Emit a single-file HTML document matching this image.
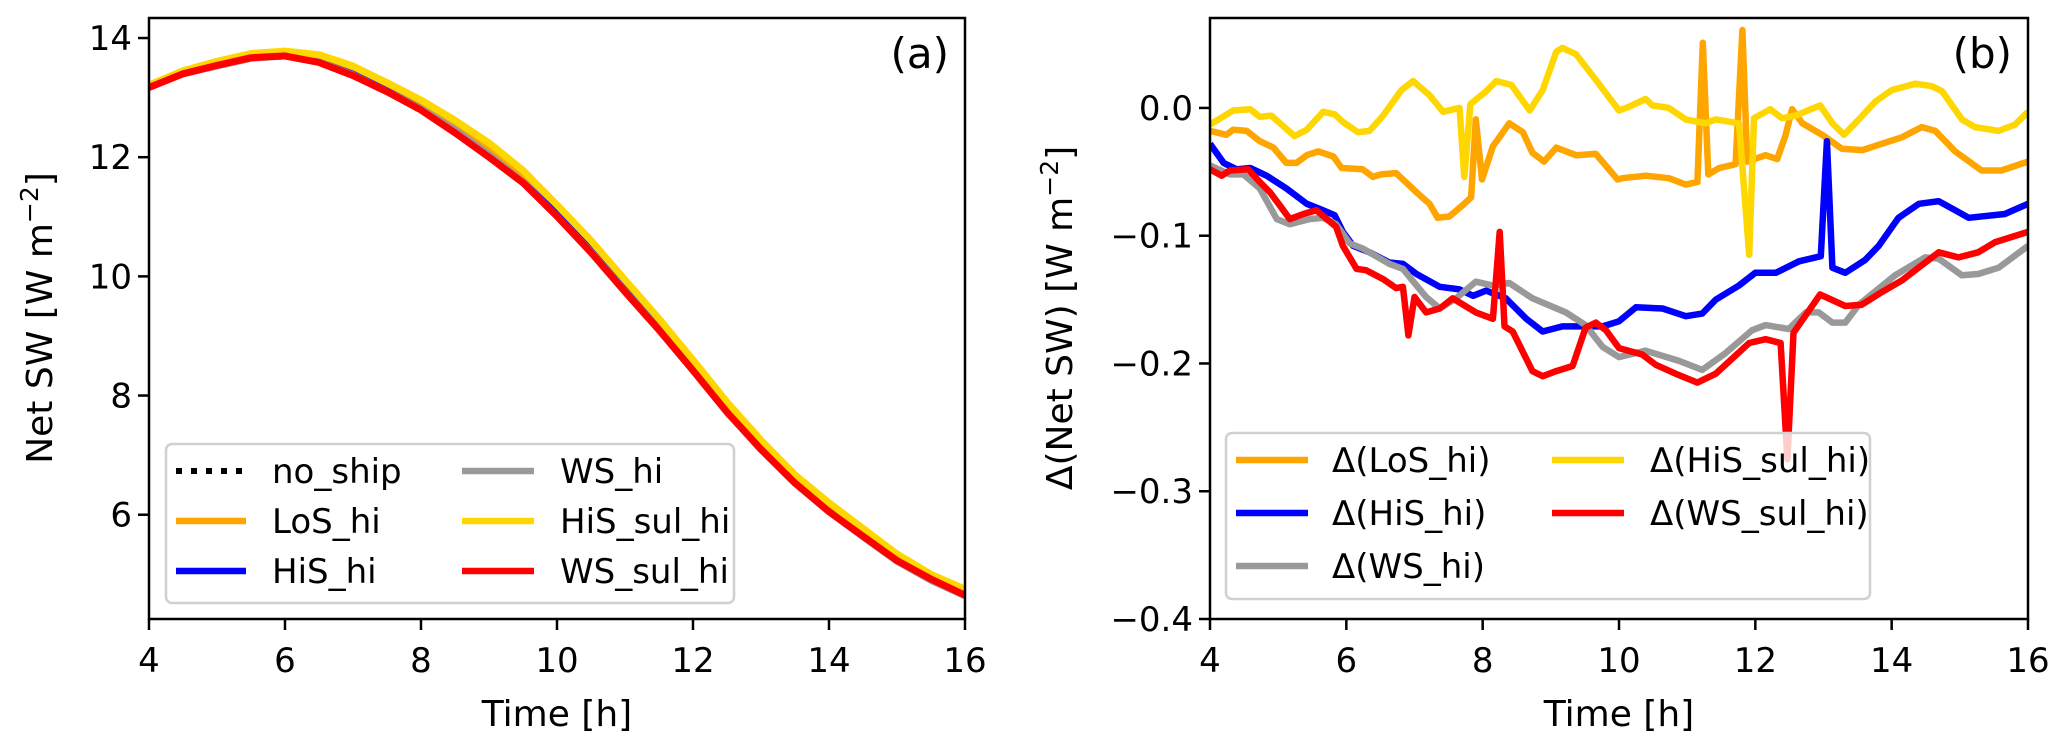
<!DOCTYPE html>
<html><head><meta charset="utf-8"><style>
html,body{margin:0;padding:0;background:#fff;}
svg{display:block;font-family:"DejaVu Sans","Liberation Sans",sans-serif;}
</style></head><body>
<svg id="fig" width="2067" height="746" viewBox="0 0 2067 746" xmlns="http://www.w3.org/2000/svg">
<defs>
<clipPath id="clipA"><rect x="149" y="18" width="816" height="601"/></clipPath>
<clipPath id="clipB"><rect x="1210" y="18" width="818" height="601"/></clipPath>
</defs>
<g id="panelA"></g>
<g id="panelB"></g>
</svg>
<script>
// ---------- Panel (a) data ----------
const timeA = [4,4.5,5,5.5,6,6.5,7,7.5,8,8.5,9,9.5,10,10.5,11,11.5,12,12.5,13,13.5,14,14.5,15,15.5,16];
const noShipA = [13.22,13.45,13.62,13.75,13.80,13.72,13.52,13.25,12.95,12.60,12.20,11.75,11.20,10.60,9.95,9.30,8.60,7.90,7.25,6.68,6.18,5.75,5.35,5.02,4.75];
const losA = [13.20,13.42,13.58,13.71,13.75,13.67,13.45,13.17,12.91,12.58,12.16,11.71,11.15,10.55,9.89,9.25,8.56,7.88,7.23,6.65,6.16,5.73,5.32,4.97,4.71];
const hisA = [13.19,13.41,13.56,13.67,13.70,13.60,13.39,13.11,12.81,12.45,12.03,11.58,11.04,10.44,9.79,9.16,8.47,7.78,7.13,6.56,6.08,5.68,5.27,4.94,4.68];
const wsA = [13.18,13.40,13.53,13.66,13.70,13.60,13.38,13.10,12.81,12.46,12.04,11.58,11.01,10.41,9.75,9.11,8.43,7.73,7.09,6.53,6.05,5.63,5.22,4.90,4.64];
const hisSulA = [13.21,13.45,13.61,13.74,13.78,13.72,13.53,13.25,12.96,12.62,12.24,11.78,11.20,10.60,9.94,9.29,8.60,7.89,7.25,6.67,6.20,5.77,5.34,5.00,4.75];
const wsSulA = [13.17,13.40,13.54,13.67,13.70,13.59,13.37,13.10,12.79,12.41,12.00,11.57,11.01,10.40,9.74,9.10,8.42,7.72,7.10,6.53,6.05,5.64,5.23,4.92,4.65];
const xTicks = [4,6,8,10,12,14,16];
const yTicksA = [6,8,10,12,14];
const yTicksB = [0.0,-0.1,-0.2,-0.3,-0.4];
const yTickLabelsB = ["0.0","\u22120.1","\u22120.2","\u22120.3","\u22120.4"];

// ---------- Panel (b) data ----------
const losT = [4,4.24,4.34,4.54,4.73,4.93,5.12,5.27,5.42,5.59,5.81,5.93,6.24,6.39,6.51,6.73,7.03,7.22,7.34,7.51,7.71,7.83,7.9,7.99,8.15,8.39,8.59,8.73,8.9,9.08,9.37,9.66,9.98,10.05,10.39,10.73,10.98,11.15,11.23,11.31,11.47,11.71,11.81,11.88,12.15,12.32,12.44,12.54,12.69,12.98,13.27,13.57,13.86,14.15,14.44,14.64,14.93,15.32,15.61,16];
const losV = [-0.018,-0.021,-0.017,-0.018,-0.026,-0.031,-0.043,-0.043,-0.037,-0.034,-0.038,-0.047,-0.048,-0.054,-0.052,-0.051,-0.066,-0.075,-0.086,-0.085,-0.076,-0.070,-0.009,-0.056,-0.030,-0.012,-0.019,-0.035,-0.042,-0.031,-0.037,-0.036,-0.056,-0.055,-0.053,-0.055,-0.060,-0.058,0.051,-0.052,-0.047,-0.044,0.061,-0.042,-0.037,-0.040,-0.022,-0.001,-0.012,-0.021,-0.032,-0.033,-0.028,-0.023,-0.015,-0.018,-0.034,-0.049,-0.049,-0.042];
const hisT = [4,4.2,4.39,4.59,4.83,5.12,5.42,5.61,5.83,5.95,6.1,6.34,6.63,6.83,7.03,7.37,7.66,7.86,8.05,8.34,8.64,8.88,9.17,9.51,9.76,10.0,10.25,10.64,10.98,11.22,11.42,11.76,12.0,12.3,12.64,12.96,13.05,13.13,13.32,13.61,13.81,14.1,14.4,14.69,14.93,15.13,15.66,16];
const hisV = [-0.028,-0.043,-0.048,-0.047,-0.053,-0.063,-0.075,-0.079,-0.084,-0.097,-0.108,-0.113,-0.121,-0.122,-0.130,-0.140,-0.142,-0.147,-0.143,-0.149,-0.165,-0.175,-0.171,-0.171,-0.171,-0.167,-0.156,-0.157,-0.163,-0.161,-0.150,-0.139,-0.129,-0.129,-0.120,-0.116,-0.026,-0.125,-0.129,-0.119,-0.108,-0.086,-0.075,-0.073,-0.080,-0.086,-0.083,-0.075];
const wsT = [4,4.29,4.49,4.73,4.98,5.17,5.46,5.66,5.85,6.05,6.24,6.63,6.83,7.17,7.37,7.61,7.9,8.15,8.39,8.73,9.22,9.51,9.76,10.0,10.39,10.88,11.22,11.56,11.95,12.15,12.49,12.74,12.93,13.13,13.32,13.52,14.05,14.49,14.69,15.03,15.27,15.57,16];
const wsV = [-0.045,-0.052,-0.052,-0.063,-0.087,-0.091,-0.087,-0.086,-0.091,-0.106,-0.110,-0.122,-0.126,-0.148,-0.157,-0.149,-0.136,-0.139,-0.137,-0.149,-0.160,-0.170,-0.187,-0.195,-0.190,-0.198,-0.205,-0.192,-0.174,-0.170,-0.173,-0.160,-0.160,-0.168,-0.168,-0.154,-0.131,-0.117,-0.118,-0.131,-0.130,-0.125,-0.108];
const hisSulT = [4,4.34,4.59,4.73,4.9,5.24,5.42,5.66,5.83,5.95,6.17,6.34,6.54,6.81,6.98,7.22,7.42,7.66,7.73,7.82,8.05,8.2,8.42,8.69,8.88,9.08,9.17,9.37,9.66,10.0,10.15,10.39,10.49,10.73,10.98,11.27,11.42,11.76,11.91,11.98,12.22,12.39,12.59,12.95,13.13,13.3,13.52,13.76,14.0,14.35,14.59,14.74,15.03,15.22,15.57,15.81,16];
const hisSulV = [-0.013,-0.002,-0.001,-0.007,-0.006,-0.022,-0.017,-0.003,-0.005,-0.011,-0.019,-0.018,-0.006,0.014,0.021,0.010,-0.003,0,-0.054,0.003,0.013,0.021,0.018,-0.002,0.014,0.044,0.047,0.042,0.022,-0.002,0.001,0.007,0.002,0,-0.009,-0.012,-0.009,-0.012,-0.115,-0.008,-0.001,-0.008,-0.006,0.002,-0.012,-0.021,-0.009,0.005,0.014,0.019,0.017,0.013,-0.009,-0.015,-0.018,-0.013,-0.003];
const wsSulT = [4,4.17,4.29,4.56,4.73,4.88,5.02,5.17,5.37,5.56,5.85,5.95,6.15,6.29,6.54,6.73,6.83,6.91,7.0,7.17,7.37,7.56,7.9,8.15,8.25,8.32,8.44,8.73,8.88,9.08,9.32,9.51,9.66,9.81,10.0,10.34,10.54,10.83,11.15,11.42,11.91,12.15,12.37,12.47,12.56,12.95,13.32,13.56,13.86,14.15,14.69,14.98,15.27,15.52,16];
const wsSulV = [-0.048,-0.053,-0.049,-0.048,-0.058,-0.066,-0.076,-0.087,-0.083,-0.080,-0.093,-0.108,-0.126,-0.127,-0.134,-0.141,-0.140,-0.178,-0.148,-0.160,-0.157,-0.149,-0.160,-0.165,-0.097,-0.171,-0.175,-0.206,-0.210,-0.206,-0.202,-0.172,-0.168,-0.174,-0.188,-0.193,-0.201,-0.208,-0.215,-0.208,-0.184,-0.181,-0.184,-0.275,-0.176,-0.146,-0.155,-0.154,-0.144,-0.135,-0.113,-0.117,-0.113,-0.105,-0.097];

const NS = "http://www.w3.org/2000/svg";
const A = {x0:149, x1:965, y0:18, y1:619, tmin:4, tmax:16, vmin:4.25, vmax:14.336};
const B = {x0:1210, x1:2028, y0:18, y1:619, tmin:4, tmax:16, vmin:-0.4, vmax:0.0704};
function xA(t){return A.x0+(t-A.tmin)/(A.tmax-A.tmin)*(A.x1-A.x0);}
function yA(v){return A.y1-(v-A.vmin)/(A.vmax-A.vmin)*(A.y1-A.y0);}
function xB(t){return B.x0+(t-B.tmin)/(B.tmax-B.tmin)*(B.x1-B.x0);}
function yB(v){return B.y1-(v-B.vmin)/(B.vmax-B.vmin)*(B.y1-B.y0);}

function mk(tag, attrs, parent){
  const e=document.createElementNS(NS,tag);
  for(const k in attrs) e.setAttribute(k,attrs[k]);
  parent.appendChild(e); return e;
}
function pathOf(ts,vs,fx,fy){
  let d="";
  for(let i=0;i<ts.length;i++){ d+=(i?"L":"M")+fx(ts[i]).toFixed(1)+","+fy(vs[i]).toFixed(1); }
  return d;
}

const gA=document.getElementById("panelA");
const gB=document.getElementById("panelB");

const linesA=mk("g",{"clip-path":"url(#clipA)"},gA);


let p;
p=mk("path",{d:pathOf(timeA,noShipA,xA,yA),fill:"none",stroke:"#000","stroke-width":4,"stroke-dasharray":"4,7"},linesA);


p=mk("path",{d:pathOf(timeA,losA,xA,yA),fill:"none",stroke:"#FFA500","stroke-width":7,"stroke-linejoin":"round"},linesA);


p=mk("path",{d:pathOf(timeA,hisA,xA,yA),fill:"none",stroke:"#0000FF","stroke-width":7,"stroke-linejoin":"round"},linesA);


p=mk("path",{d:pathOf(timeA,wsA,xA,yA),fill:"none",stroke:"#999999","stroke-width":7,"stroke-linejoin":"round"},linesA);


p=mk("path",{d:pathOf(timeA,hisSulA,xA,yA),fill:"none",stroke:"#FFD700","stroke-width":7,"stroke-linejoin":"round"},linesA);


p=mk("path",{d:pathOf(timeA,wsSulA,xA,yA),fill:"none",stroke:"#FF0000","stroke-width":7,"stroke-linejoin":"round"},linesA);



const linesB=mk("g",{"clip-path":"url(#clipB)"},gB);


p=mk("path",{d:pathOf(losT,losV,xB,yB),fill:"none",stroke:"#FFA500","stroke-width":6.5,"stroke-linejoin":"round"},linesB);


p=mk("path",{d:pathOf(hisT,hisV,xB,yB),fill:"none",stroke:"#0000FF","stroke-width":6.5,"stroke-linejoin":"round"},linesB);


p=mk("path",{d:pathOf(wsT,wsV,xB,yB),fill:"none",stroke:"#999999","stroke-width":6.5,"stroke-linejoin":"round"},linesB);


p=mk("path",{d:pathOf(hisSulT,hisSulV,xB,yB),fill:"none",stroke:"#FFD700","stroke-width":6.5,"stroke-linejoin":"round"},linesB);


p=mk("path",{d:pathOf(wsSulT,wsSulV,xB,yB),fill:"none",stroke:"#FF0000","stroke-width":6.5,"stroke-linejoin":"round"},linesB);



function axes(g,G,fx,fy,yt,ylab,name){
  const ax=mk("g",{},g);
  
  
  mk("rect",{x:G.x0,y:G.y0,width:G.x1-G.x0,height:G.y1-G.y0,fill:"none",stroke:"#000","stroke-width":2.5},ax);
  xTicks.forEach(t=>{
    const x=fx(t);
    mk("line",{x1:x,y1:G.y1,x2:x,y2:G.y1+11,stroke:"#000","stroke-width":2.5},ax);
    const tx=mk("text",{x:x,y:G.y1+53,"font-size":34,"text-anchor":"middle",fill:"#000"},ax);
    tx.textContent=String(t);
    
    
  });
  yt.forEach((v,i)=>{
    const y=fy(v);
    mk("line",{x1:G.x0-11,y1:y,x2:G.x0,y2:y,stroke:"#000","stroke-width":2.5},ax);
    const tx=mk("text",{x:G.x0-17,y:y+12,"font-size":34,"text-anchor":"end",fill:"#000"},ax);
    tx.textContent=ylab[i];
    
    
  });
}
axes(gA,A,xA,yA,yTicksA,yTicksA.map(String),"panel-a");
axes(gB,B,xB,yB,yTicksB,yTickLabelsB,"panel-b");

function legend(g,box,cols,name){
  const lg=mk("g",{},g);
  
  
  mk("rect",{x:box.x,y:box.y,width:box.w,height:box.h,rx:6,fill:"#fff","fill-opacity":0.8,stroke:"#d0d0d0","stroke-width":2.5},lg);
  cols.forEach(c=>{
    const e=mk("g",{},lg);
    
    
    const attrs={x1:c.lx,x2:c.lx+c.lw,y1:c.y,y2:c.y,stroke:c.color,"stroke-width":c.dash?6:6.5};
    if(c.dash) attrs["stroke-dasharray"]="6,9";
    mk("line",attrs,e);
    const t=mk("text",{x:c.tx,y:c.y+12,"font-size":34,fill:"#000"},e);
    t.textContent=c.label;
  });
}
legend(gA,{x:166,y:444,w:568,h:159},[
  {lx:176,lw:70,tx:272,y:471,color:"#000",dash:true,label:"no_ship"},
  {lx:176,lw:70,tx:272,y:521,color:"#FFA500",label:"LoS_hi"},
  {lx:176,lw:70,tx:272,y:571,color:"#0000FF",label:"HiS_hi"},
  {lx:462,lw:72,tx:560,y:471,color:"#999999",label:"WS_hi"},
  {lx:462,lw:72,tx:560,y:521,color:"#FFD700",label:"HiS_sul_hi"},
  {lx:462,lw:72,tx:560,y:571,color:"#FF0000",label:"WS_sul_hi"}
],"legend-a");
legend(gB,{x:1226,y:433,w:644,h:166},[
  {lx:1236,lw:72,tx:1332,y:460,color:"#FFA500",label:"\u0394(LoS_hi)"},
  {lx:1236,lw:72,tx:1332,y:513,color:"#0000FF",label:"\u0394(HiS_hi)"},
  {lx:1236,lw:72,tx:1332,y:566,color:"#999999",label:"\u0394(WS_hi)"},
  {lx:1552,lw:72,tx:1650,y:460,color:"#FFD700",label:"\u0394(HiS_sul_hi)"},
  {lx:1552,lw:72,tx:1650,y:513,color:"#FF0000",label:"\u0394(WS_sul_hi)"}
],"legend-b");

function txt(parent,attrs,s,name){
  const t=mk("text",attrs,parent); t.textContent=s;
  
  
  return t;
}
txt(gA,{x:557,y:726,"font-size":36,"text-anchor":"middle"},"Time [h]","x-axis-title-a");
txt(gB,{x:1619,y:726,"font-size":36,"text-anchor":"middle"},"Time [h]","x-axis-title-b");
const ya=mk("text",{x:0,y:0,"font-size":36,"text-anchor":"middle",transform:"translate(52,318) rotate(-90)"},gA);
ya.innerHTML='Net SW [W m<tspan dy="-14" font-size="25">\u22122</tspan><tspan dy="14">]</tspan>';


const yb=mk("text",{x:0,y:0,"font-size":36,"text-anchor":"middle",transform:"translate(1072,318) rotate(-90)"},gB);
yb.innerHTML='\u0394(Net SW) [W m<tspan dy="-14" font-size="25">\u22122</tspan><tspan dy="14">]</tspan>';


txt(gA,{x:949,y:68,"font-size":42,"text-anchor":"end"},"(a)","panel-label-a");
txt(gB,{x:2012,y:68,"font-size":42,"text-anchor":"end"},"(b)","panel-label-b");
</script>
</body></html>
